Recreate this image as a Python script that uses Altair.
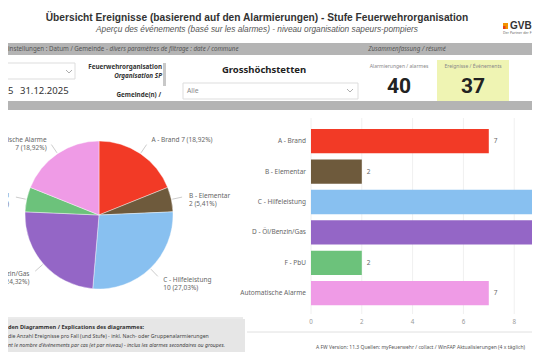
import altair as alt
import pandas as pd

# ---------------- data ----------------
categories = ["A - Brand", "B - Elementar", "C - Hilfeleistung",
              "D - Öl/Benzin/Gas", "F - PbU", "Automatische Alarme"]
counts = [7, 2, 10, 9, 2, 7]
colors = ["#F23A26", "#6E5A3C", "#88C0F0", "#9466C6", "#6CC27B", "#EF9BE6"]
label_side = ["right", "right", "right", "left", "left", "left"]
label_wrap = [False, True, True, True, True, True]
ticks = [0, 2, 4, 6, 8]
alarm_total = 40
municipality = "Grosshöchstetten"
date_from_visible = "5"
date_to = "31.12.2025"

total = sum(counts)

FONT = "Noto Sans"
TFONT = "Liberation Sans"


def X(v):
    return v - 8


def Y(v):
    return v - 8


def pct(c):
    return f"{c / total * 100:.2f}".replace(".", ",") + "%"


pie_labels = []
for cat, c, w in zip(categories, counts, label_wrap):
    sep = "\n" if w else " "
    pie_labels.append(f"{cat}{sep}{c} ({pct(c)})")

df = pd.DataFrame({
    "category": categories,
    "count": counts,
    "idx": list(range(len(categories))),
    "label": pie_labels,
    "side": label_side,
})
tick_df = pd.DataFrame({"t": ticks})
one = pd.DataFrame({"k": [0]})

color_enc = alt.Color("category:N", scale=alt.Scale(domain=categories, range=colors), legend=None)

# ---------------- helpers ----------------

def txt(s, x, y, size, color="#333", weight="normal", style="normal", align="left", font=FONT):
    return alt.Chart(one).mark_text(
        text=s, fontSize=size, color=color, fontWeight=weight, fontStyle=style,
        align=align, baseline="middle", font=font
    ).encode(x=alt.value(X(x)), y=alt.value(Y(y)))


def rect(x0, x1, y0, y1, fill, stroke=None, sw=1):
    kw = dict(fill=fill)
    if stroke:
        kw.update(stroke=stroke, strokeWidth=sw)
    return alt.Chart(one).mark_rect(**kw).encode(
        x=alt.value(X(x0)), x2=alt.value(X(x1)), y=alt.value(Y(y0)), y2=alt.value(Y(y1)))


def seg(x0, y0, x1, y1, color="#999", sw=1):
    return alt.Chart(one).mark_rule(color=color, strokeWidth=sw).encode(
        x=alt.value(X(x0)), x2=alt.value(X(x1)), y=alt.value(Y(y0)), y2=alt.value(Y(y1)))


layers = []

# header
layers.append(txt("Übersicht Ereignisse (basierend auf den Alarmierungen) - Stufe Feuerwehrorganisation",
                  257, 18, 10.2, color="#333", weight="bold", align="center", font=TFONT))
layers.append(txt("Aperçu des événements (basé sur les alarmes) - niveau organisation sapeurs-pompiers",
                  257, 30, 8.3, color="#555", style="italic", align="center", font=TFONT))
# logo
layers.append(rect(503, 508, 23, 29, "#F39200"))
layers.append(rect(503, 505.5, 26, 29, "#E2421B"))
layers.append(txt("GVB", 510, 26, 10, color="#333", weight="bold", font=TFONT))
layers.append(txt("Der Partner der F", 503, 33, 3.5, color="#666"))

# grey bands
layers.append(rect(-10, 560, 43, 55, "#B4B4B4"))
layers.append(txt("instellungen : Datum / Gemeinde", 8, 49, 6.2, color="#555"))
layers.append(txt("- divers paramètres de filtrage : date / commune", 106, 49, 6.2, color="#555", style="italic"))
layers.append(txt("Zusammenfassung / résumé", 407, 49, 6.2, color="#555", style="italic", align="center"))
layers.append(rect(-10, 560, 101, 110, "#B4B4B4"))

# filter controls
layers.append(rect(-10, 75, 63, 79, "white", "#DDDDDD"))
layers.append(seg(66, 70, 69, 73, "#999", 0.8))
layers.append(seg(69, 73, 72, 70, "#999", 0.8))
layers.append(txt(date_from_visible, 8, 91, 9.5, color="#333"))
layers.append(txt(date_to, 20, 91, 9.5, color="#333"))
layers.append(txt("Feuerwehrorganisation", 162, 67, 6.3, color="#333", weight="bold", align="right"))
layers.append(txt("Organisation SP", 162, 76, 6.3, color="#333", weight="bold", style="italic", align="right"))
layers.append(rect(163, 166, 63, 86, "#C8C8C8"))
layers.append(txt("Gemeinde(n) /", 161, 95, 6.3, color="#333", weight="bold", align="right"))
layers.append(txt(municipality, 264, 70, 9.5, color="#222", weight="bold", align="center"))
layers.append(rect(183, 358, 83, 99, "white", "#DDDDDD"))
layers.append(txt("Alle", 187, 91, 6.8, color="#888"))
layers.append(seg(347, 89, 350, 92, "#999", 0.8))
layers.append(seg(350, 92, 353, 89, "#999", 0.8))

# KPI cards
layers.append(txt("Alarmierungen / alarmes", 399, 66, 5, color="#888", align="center"))
layers.append(txt(str(alarm_total), 399, 87, 21, color="#222", weight="bold", align="center", font="Roboto"))
layers.append(rect(437, 509, 60, 101, "#EFF4B3"))
layers.append(txt("Ereignisse / Événements", 473, 66, 5, color="#888", align="center"))
layers.append(txt(str(total), 473, 87, 21, color="#222", weight="bold", align="center", font="Roboto"))

# panel borders
layers.append(seg(-10, 318, 243, 318, "#D6D6D6", 1))
layers.append(seg(247, 332, 560, 332, "#E0E0E0", 1))

# ---------------- pie ----------------
CX, CY, R = 99, 215, 74
pie = alt.Chart(df).mark_arc(outerRadius=R, stroke="white", strokeWidth=0.4).encode(
    theta=alt.Theta("count:Q", stack=True),
    color=color_enc,
    order=alt.Order("idx:Q"),
    x=alt.value(X(CX)), y=alt.value(Y(CY)),
)
layers.append(pie)

lbl_base = alt.Chart(df).transform_window(
    cum="sum(count)", sort=[alt.SortField("idx", order="ascending")], frame=[None, 0]
).transform_calculate(mid="datum.cum - datum.count / 2")

theta_lbl = alt.Theta("mid:Q", scale=alt.Scale(domain=[0, total]))

leader = lbl_base.transform_calculate(
    a=f"datum.mid / {total} * 2 * PI"
).transform_calculate(
    lx1=f"{X(CX)} + {R + 1} * sin(datum.a)",
    ly1=f"{Y(CY)} - {R + 1} * cos(datum.a)",
    lx2=f"{X(CX)} + {R + 11} * sin(datum.a)",
    ly2=f"{Y(CY)} - {R + 11} * cos(datum.a)",
).mark_rule(color="#AAAAAA", strokeWidth=0.6).encode(
    x=alt.X("lx1:Q", scale=None, axis=None), y=alt.Y("ly1:Q", scale=None, axis=None),
    x2="lx2:Q", y2="ly2:Q")
layers.append(leader)

for side, align, dx in [("right", "left", 2), ("left", "right", -2)]:
    layers.append(
        lbl_base.transform_filter(f"datum.side == '{side}'").mark_text(
            radius=90, align=align, baseline="middle", dx=dx, lineBreak="\n",
            fontSize=6.5, color="#666", font=FONT, lineHeight=8
        ).encode(theta=theta_lbl, text="label:N", x=alt.value(X(CX)), y=alt.value(Y(CY)))
    )

# ---------------- bars ----------------
xs = alt.Scale(domain=[0, 10], range=[X(311), X(311) + 254], nice=False, zero=True)
ys = alt.Scale(domain=categories, range=[Y(126), Y(308.4)], paddingInner=0.2, paddingOuter=0.1)

layers.append(alt.Chart(tick_df).mark_rule(color="#F0F0F0", strokeWidth=1).encode(
    x=alt.X("t:Q", scale=xs, axis=None), y=alt.value(Y(118)), y2=alt.value(Y(314))))
layers.append(alt.Chart(df).mark_bar().encode(
    x=alt.X("count:Q", scale=xs, axis=None),
    y=alt.Y("category:N", scale=ys, axis=None),
    color=color_enc))
layers.append(alt.Chart(df).mark_text(align="right", baseline="middle", fontSize=6.5, color="#666", font=FONT).encode(
    y=alt.Y("category:N", scale=ys, axis=None), x=alt.value(X(306)), text="category:N"))
layers.append(alt.Chart(df).mark_text(align="left", baseline="middle", dx=5, fontSize=6.5, color="#666", font=FONT).encode(
    x=alt.X("count:Q", scale=xs, axis=None), y=alt.Y("category:N", scale=ys, axis=None), text="count:Q"))
layers.append(alt.Chart(tick_df).mark_text(align="center", baseline="middle", fontSize=6.2, color="#999", font=FONT).encode(
    x=alt.X("t:Q", scale=xs, axis=None), y=alt.value(Y(322)), text="t:Q"))

# ---------------- footer ----------------
layers.append(rect(-10, 245, 319, 353, "#E6E6E6"))
layers.append(txt("den Diagrammen / Explications des diagrammes:", 8, 327, 5.6, color="#333", weight="bold"))
layers.append(txt("die Anzahl Ereignisse pro Fall (und Stufe) - inkl. Nach- oder Gruppenalarmierungen", 8, 336, 5.2, color="#444"))
layers.append(txt("nt le nombre d'événements par cas (et par niveau) -  inclus les alarmes secondaires ou groupes.", 8, 345, 5.2, color="#444", style="italic"))
layers.append(txt("A FW  Version: 11.3  Quellen: myFeuerwehr / collact / WinFAP   Aktualisierungen (4 x täglich)", 316, 347, 5.0, color="#555"))

chart = alt.layer(*layers).properties(
    width=524, height=344,
    autosize=alt.AutoSizeParams(type="none"),
    padding=0,
).resolve_scale(theta="independent").configure_view(stroke=None)

chart.save("out.html", embed_options={"renderer": "svg", "actions": False})
